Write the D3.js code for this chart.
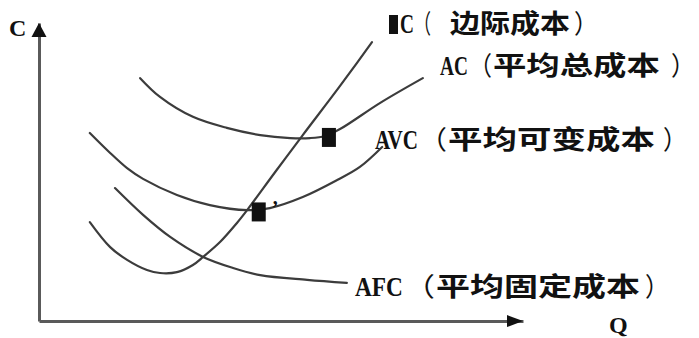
<!DOCTYPE html>
<html><head><meta charset="utf-8">
<script src="https://cdn.jsdelivr.net/npm/d3@7"></script>
<style>html,body{margin:0;padding:0;background:#fff;}svg{display:block;}</style>
</head><body>
<svg id="chart" width="699" height="338"></svg>
<script>
// ---- data (Q = output, C = cost; both in arbitrary units 0..100) ----
const mcQ  = [10.5, 14.7, 18.2, 22.3, 25.0, 28.5, 31.8, 33.9, 37.4, 40.9, 43.0, 48.8, 54.5, 62.2, 68.8];
const mcC  = [33.2, 24.8, 20.5, 17.1, 16.1, 16.4, 18.8, 21.5, 26.5, 32.9, 37.2, 50.0, 62.4, 78.9, 93.6];
const acQ  = [20.9, 25.0, 31.8, 38.8, 45.7, 51.9, 56.0, 59.1, 62.2, 70.5, 79.3];
const acC  = [81.5, 75.2, 68.5, 64.8, 62.4, 61.4, 61.4, 62.1, 64.4, 73.2, 81.5];
const avcQ = [10.5, 14.7, 18.2, 21.5, 28.5, 35.3, 43.0, 47.7, 54.5, 61.6, 66.3, 70.9];
const avcC = [63.1, 56.4, 51.3, 47.7, 42.3, 38.9, 37.2, 37.9, 41.6, 47.3, 51.7, 58.4];
const afcQ = [15.7, 21.5, 27.1, 33.9, 40.1, 45.7, 55.4, 63.6];
const afcC = [44.6, 35.6, 28.2, 21.5, 17.8, 15.4, 13.8, 12.8];
const markerQ = [59.9, 45.4];
const markerC = [61.6, 36.6];
const labelLatin = ["MC", "AC", "AVC", "AFC"];
const labelZh = ["边际成本", "平均总成本", "平均可变成本", "平均固定成本"];
const axisLabels = ["C", "Q"];

// ---- layout ----
const svg = d3.select("#chart");
const x = d3.scaleLinear().domain([0, 100]).range([39, 523]);
const y = d3.scaleLinear().domain([0, 100]).range([321, 23]);
const ink = "#111";
const curveCol = "#3c3c3c";
const axisCol = "#5a5a5a";

// axes (no ticks)
const gx = svg.append("g").attr("transform", `translate(0,${y(0)})`)
  .call(d3.axisBottom(x).tickValues([]).tickSizeOuter(0));
const gy = svg.append("g").attr("transform", `translate(${x(0)},0)`)
  .call(d3.axisLeft(y).tickValues([]).tickSizeOuter(0));
[gx, gy].forEach(g => g.select(".domain").attr("stroke", axisCol).attr("stroke-width", 3));

// arrowheads
svg.append("path")
  .attr("d", `M${x(100)},${y(0)} L${x(100) - 16},${y(0) - 6} L${x(100) - 16},${y(0) + 6} Z`)
  .attr("fill", ink);
svg.append("path")
  .attr("d", `M${x(0)},${y(100)} L${x(0) - 7.5},${y(100) + 14} L${x(0) + 7.5},${y(100) + 14} Z`)
  .attr("fill", ink);

// axis letters
svg.append("text").text(axisLabels[0]).attr("x", 9).attr("y", 36)
  .attr("font-family", "Liberation Serif").attr("font-weight", "bold").attr("font-size", 24).attr("fill", ink);
svg.append("text").text(axisLabels[1]).attr("x", 609).attr("y", 333)
  .attr("font-family", "Liberation Serif").attr("font-weight", "bold").attr("font-size", 24).attr("fill", ink);

// curves
const line = d3.line().x(d => x(d[0])).y(d => y(d[1])).curve(d3.curveCatmullRom.alpha(0.5));
const series = [[mcQ, mcC], [acQ, acC], [avcQ, avcC], [afcQ, afcC]];
series.forEach(([qs, cs]) => {
  svg.append("path").datum(qs.map((q, i) => [q, cs[i]]))
    .attr("d", line).attr("fill", "none").attr("stroke", curveCol).attr("stroke-width", 2.2)
    .attr("stroke-linecap", "round");
});

// point markers (rendered as solid blocks in the reference)
markerQ.forEach((q, i) => {
  svg.append("rect").attr("x", x(q) - 7).attr("y", y(markerC[i]) - 9.5)
    .attr("width", 14).attr("height", 19).attr("fill", ink);
});
svg.append("text").text("’").attr("x", x(markerQ[1]) + 13).attr("y", y(markerC[1]) + 3)
  .attr("font-family", "Liberation Serif").attr("font-weight", "bold").attr("font-size", 20).attr("fill", ink);

// text piece squeezed/stretched horizontally to a given width
function piece(str, x0, len, base, family, weight, size) {
  const t = svg.append("text").text(str).attr("x", 0).attr("y", 0)
    .attr("font-family", family).attr("font-weight", weight).attr("font-size", size).attr("fill", ink);
  const w = t.node().getComputedTextLength() || len;
  t.attr("transform", `translate(${x0},${base}) scale(${(len / w).toFixed(4)},1)`);
  return t;
}

// curve labels
const rows = [
  {base: 33, latX: 400, latLen: 14, latText: labelLatin[0].slice(1), block: true, openX: 414, openW: 17, zhX: 450, zhLen: 120, closeX: 574},
  {base: 75, latX: 440, latLen: 28, latText: labelLatin[1], openX: 469, openW: 23, zhX: 493, zhLen: 167, closeX: 671},
  {base: 149, latX: 375, latLen: 43, latText: labelLatin[2], openX: 419, openW: 28, zhX: 448, zhLen: 207, closeX: 663},
  {base: 296, latX: 355, latLen: 48, latText: labelLatin[3], openX: 404, openW: 31, zhX: 436, zhLen: 204, closeX: 645}
];
const cjk = "Noto Sans CJK SC";
rows.forEach((r, i) => {
  if (r.block) {
    svg.append("rect").attr("x", 389).attr("y", r.base - 18).attr("width", 9).attr("height", 19).attr("fill", ink);
  }
  piece(r.latText, r.latX, r.latLen, r.base, "Liberation Serif", "bold", 28);
  piece("（", r.openX, r.openW, r.base, cjk, 400, 26);
  piece(labelZh[i], r.zhX, r.zhLen, r.base, cjk, 600, 26);
  piece("）", r.closeX, 24, r.base, cjk, 400, 26);
});
</script>
</body></html>
